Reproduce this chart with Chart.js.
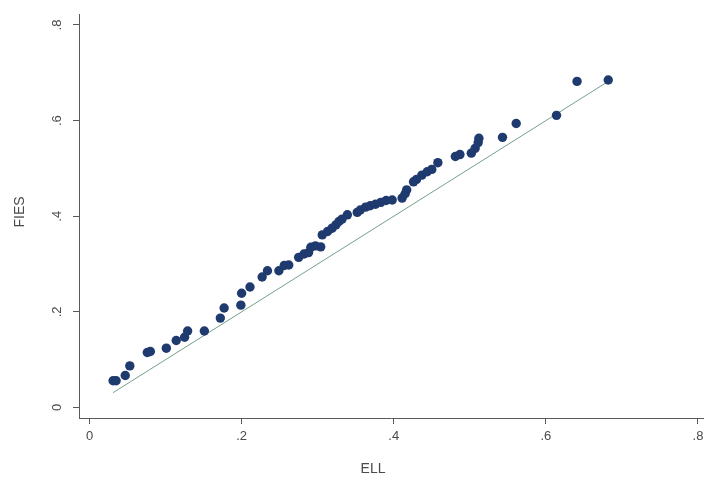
<!DOCTYPE html>
<html>
<head>
<meta charset="utf-8">
<script src="https://cdn.jsdelivr.net/npm/chart.js@4/dist/chart.umd.min.js"></script>
<style>
  html, body { margin: 0; padding: 0; background: #ffffff; }
  #wrap { width: 704px; height: 481px; position: relative; }
</style>
</head>
<body>
<div id="wrap"><canvas id="c" width="704" height="481"></canvas></div>
<script>
// ---- data ----
const ell = [0.031, 0.035, 0.047, 0.053, 0.076, 0.080, 0.101, 0.114, 0.125, 0.129,
             0.151, 0.172, 0.177, 0.199, 0.200, 0.211, 0.227, 0.234, 0.249, 0.256,
             0.262, 0.275, 0.282, 0.288, 0.291, 0.297, 0.304, 0.306, 0.313, 0.319,
             0.324, 0.328, 0.332, 0.339, 0.352, 0.356, 0.363, 0.369, 0.376, 0.383,
             0.390, 0.398, 0.411, 0.415, 0.417, 0.426, 0.430, 0.437, 0.444, 0.450,
             0.458, 0.481, 0.487, 0.502, 0.507, 0.511, 0.512, 0.543, 0.561, 0.614,
             0.641, 0.682];
const fies = [0.056, 0.056, 0.067, 0.087, 0.115, 0.117, 0.124, 0.140, 0.147, 0.160,
              0.160, 0.187, 0.208, 0.214, 0.239, 0.252, 0.273, 0.286, 0.286, 0.297,
              0.298, 0.314, 0.321, 0.324, 0.335, 0.338, 0.336, 0.361, 0.368, 0.375,
              0.382, 0.389, 0.394, 0.403, 0.408, 0.413, 0.419, 0.422, 0.425, 0.429,
              0.433, 0.434, 0.438, 0.447, 0.455, 0.472, 0.477, 0.486, 0.493, 0.498,
              0.512, 0.525, 0.529, 0.532, 0.542, 0.554, 0.563, 0.565, 0.594, 0.611,
              0.682, 0.685];
const xTicks = [0, 0.2, 0.4, 0.6, 0.8];
const yTicks = [0, 0.2, 0.4, 0.6, 0.8];
const xTickLabels = ['0', '.2', '.4', '.6', '.8'];
const yTickLabels = ['0', '.2', '.4', '.6', '.8'];
const xTitle = 'ELL';
const yTitle = 'FIES';

// ---- build chart ----
const points = ell.map((x, i) => ({ x: x, y: fies[i] }));
const lo = Math.min(...ell), hi = Math.max(...ell);
const diag = [{ x: lo, y: lo }, { x: hi, y: hi }];

const axisColor = '#5a5a5a';
const textColor = '#4a4a4a';
const fontFamily = '"Liberation Sans", Arial, sans-serif';

const customText = {
  id: 'customText',
  afterDraw(chart) {
    const ctx = chart.ctx;
    const ys = chart.scales.y;
    ctx.save();
    ctx.fillStyle = textColor;
    ctx.font = '13px ' + fontFamily;
    ctx.textAlign = 'center';
    ctx.textBaseline = 'middle';
    yTicks.forEach((v, i) => {
      ctx.save();
      ctx.translate(57, ys.getPixelForValue(v));
      ctx.rotate(-Math.PI / 2);
      ctx.fillText(yTickLabels[i], 0, 0);
      ctx.restore();
    });
    ctx.font = '14px ' + fontFamily;
    ctx.fillText(xTitle, 373, 469);
    ctx.save();
    ctx.translate(20, 212);
    ctx.rotate(-Math.PI / 2);
    ctx.fillText(yTitle, 0, 0);
    ctx.restore();
    ctx.restore();
  }
};

new Chart(document.getElementById('c'), {
  type: 'scatter',
  data: {
    datasets: [
      {
        type: 'line',
        data: diag,
        borderColor: '#76a08a',
        borderWidth: 1,
        pointRadius: 0,
        fill: false,
        order: 2
      },
      {
        type: 'scatter',
        data: points,
        backgroundColor: '#1f3a6e',
        borderColor: '#1f3a6e',
        borderWidth: 0,
        pointRadius: 4.7,
        order: 1
      }
    ]
  },
  plugins: [customText],
  options: {
    responsive: false,
    animation: false,
    devicePixelRatio: 1,
    layout: { autoPadding: false, padding: { top: 14, right: 1, bottom: 0, left: 0 } },
    plugins: { legend: { display: false }, tooltip: { enabled: false } },
    scales: {
      x: {
        type: 'linear',
        min: -0.0138,
        max: 0.8066,
        afterBuildTicks(s) { s.ticks = xTicks.map(v => ({ value: v })); },
        afterFit(s) { s.height = 63; s.paddingLeft = 0; s.paddingRight = 0; },
        grid: { display: true, drawOnChartArea: false, drawTicks: true, tickLength: 6, color: axisColor, lineWidth: 1 },
        border: { display: true, color: axisColor, width: 1 },
        ticks: {
          color: textColor,
          padding: 5,
          maxRotation: 0,
          minRotation: 0,
          autoSkip: false,
          font: { family: fontFamily, size: 13 },
          callback: (v) => { const i = xTicks.indexOf(v); return i >= 0 ? xTickLabels[i] : ''; }
        },
        title: { display: false }
      },
      y: {
        type: 'linear',
        min: -0.022,
        max: 0.823,
        afterBuildTicks(s) { s.ticks = yTicks.map(v => ({ value: v })); },
        afterFit(s) { s.width = 79; s.paddingTop = 0; s.paddingBottom = 0; },
        grid: { display: true, drawOnChartArea: false, drawTicks: true, tickLength: 6, color: axisColor, lineWidth: 1 },
        border: { display: true, color: axisColor, width: 1 },
        ticks: { display: false },
        title: { display: false }
      }
    }
  }
});
</script>
</body>
</html>
